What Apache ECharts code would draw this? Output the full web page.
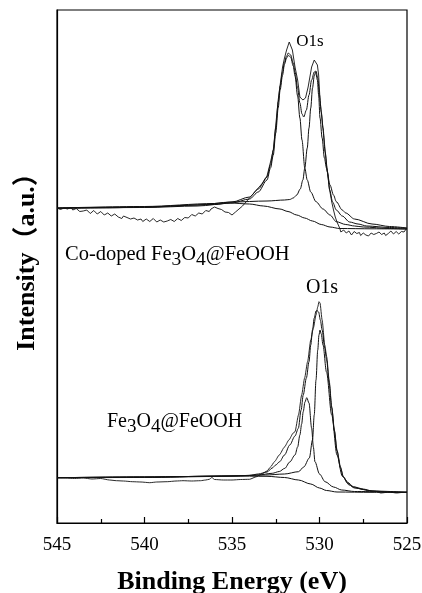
<!DOCTYPE html>
<html><head><meta charset="utf-8">
<script src="https://cdn.jsdelivr.net/npm/echarts@6/dist/echarts.min.js"></script>
<style>html,body{margin:0;padding:0;background:#fff}#c{width:422px;height:593px}</style>
</head><body><div id="c"></div>
<script>
// X ticks (eV)
const xTicks = [545, 540, 535, 530, 525];
// ---- Co-doped Fe3O4@FeOOH (upper spectrum), [binding energy, intensity a.u.] ----
const coRaw = [[545.0,315],[544.9,316.5],[544.8,313.5],[544.7,314.5],[544.6,315],[544.5,313],[544.4,314],[544.3,316],[544.2,315.5],[544.1,313],[544.0,314],[543.9,314.5],[543.8,312.5],[543.7,311.5],[543.6,313.5],[543.5,312],[543.4,311],[543.3,313],[543.2,312],[543.1,309.5],[543.0,310.5],[542.9,312.5],[542.8,311.5],[542.7,309],[542.6,310],[542.5,311.5],[542.4,310.5],[542.3,308],[542.2,308.5],[542.1,310],[542.0,309.5],[541.9,307],[541.8,307.5],[541.7,309],[541.6,308],[541.5,306],[541.4,305.5],[541.3,304.5],[541.2,307],[541.1,306],[541.0,305.5],[540.9,303.5],[540.8,304],[540.7,306],[540.6,305],[540.5,303],[540.4,303],[540.3,305],[540.2,304],[540.1,301.5],[540.0,302],[539.9,304],[539.8,303.5],[539.7,301.5],[539.6,302.5],[539.5,304.5],[539.4,303.5],[539.3,301],[539.2,301.5],[539.1,303],[539.0,302.5],[538.9,301],[538.8,303],[538.7,302],[538.6,301.5],[538.5,303.5],[538.4,303],[538.3,301.5],[538.2,302.5],[538.1,304.5],[538.0,304],[537.9,302.5],[537.8,303.5],[537.7,305.5],[537.6,306],[537.5,305],[537.4,306.5],[537.3,308.5],[537.2,308.5],[537.1,307],[537.0,308],[536.9,310],[536.8,310],[536.7,309],[536.6,310.5],[536.5,312.5],[536.4,312.5],[536.3,311.5],[536.2,314],[536.1,315.5],[536.0,316],[535.9,314],[535.8,314.5],[535.7,315.5],[535.6,313.5],[535.5,312],[535.4,311],[535.3,312],[535.2,310.5],[535.1,309],[535.0,308],[534.9,309.5],[534.8,311],[534.7,312.5],[534.6,314],[534.5,315.5],[534.4,317],[534.3,319],[534.2,321],[534.1,322.5],[534.0,325],[533.8,329],[533.6,333],[533.4,337],[533.2,341],[533.0,347],[532.8,361],[532.64,373],[532.5,398],[532.36,423],[532.25,438],[532.11,456],[532.0,465],[531.88,473],[531.73,481],[531.55,473],[531.4,456],[531.25,443],[531.12,426],[530.95,423],[530.8,425],[530.65,436],[530.45,456],[530.3,463],[530.22,465],[530.12,458],[530.05,448],[529.97,423],[529.85,403],[529.68,373],[529.55,351],[529.42,333],[529.3,321],[529.2,313],[529.1,306],[529.0,301],[528.85,295],[528.78,291],[528.7,290],[528.62,293],[528.55,292.5],[528.47,290],[528.4,289.5],[528.32,292],[528.25,291],[528.17,288],[528.1,288.5],[528.02,291.5],[527.95,291],[527.87,289.5],[527.8,289],[527.72,290.5],[527.65,287.5],[527.57,289],[527.5,290],[527.42,288.5],[527.35,288],[527.27,290],[527.2,287],[527.12,288.5],[527.05,290],[526.97,291],[526.9,288.5],[526.82,287.5],[526.75,289.5],[526.67,290.5],[526.6,291],[526.52,289],[526.45,288.5],[526.37,290.5],[526.3,290],[526.22,287.5],[526.15,288],[526.07,289.5],[526.0,290],[525.92,292],[525.85,291.5],[525.77,289],[525.7,289.5],[525.62,291.5],[525.55,291],[525.47,289],[525.4,290],[525.32,291.5],[525.25,292.5],[525.17,291],[525.1,293],[525.05,294],[525.0,295]];
const coFit = [[545,314.7],[542,315.2],[540,316],[537,318],[535,321],[534,326],[533.5,334],[533,346],[532.8,358],[532.64,373],[532.5,395],[532.36,421],[532.25,437],[532.11,451],[532,461],[531.88,467],[531.78,470],[531.65,468],[531.5,460],[531.4,451],[531.25,435],[531.12,420],[531.0,409],[530.9,406],[530.75,413],[530.6,428],[530.45,443],[530.3,451],[530.2,452],[530.1,445],[530.0,428],[529.9,411],[529.8,395],[529.68,371],[529.55,351],[529.42,333],[529.25,321],[529.04,313],[528.7,307],[528.28,301],[527.8,299],[527.3,297],[526,295.5],[525,294.7]];
const coPeakA = [[545,314.7],[540,315.5],[537,317],[535,320],[534,324],[533.5,331],[533,343],[532.8,355],[532.64,368],[532.5,390],[532.36,415],[532.25,433],[532.11,448],[532.0,459],[531.88,465],[531.78,467.5],[531.65,466],[531.5,457],[531.4,447],[531.25,427],[531.12,405],[531.0,383],[530.84,355],[530.7,343],[530.5,331],[530.2,321.3],[529.8,314],[529.4,308],[529.04,301.3],[528.5,298.5],[528,297],[527.5,296],[526,294.5],[525,294]];
const coPeakB = [[545,315],[540,316.5],[536,319.5],[535,321],[533,322],[532,323],[531.7,323.5],[531.5,325],[531.3,328],[531.1,334],[530.95,343],[530.84,355],[530.7,375],[530.6,395],[530.5,415],[530.4,435],[530.3,447],[530.22,451],[530.12,443],[530.05,428],[529.97,405],[529.85,385],[529.72,365],[529.6,355],[529.4,338],[529.2,328],[529.04,321.3],[528.7,313],[528.5,310],[528,304],[527,299],[526,296.5],[525,295]];
const coBg = [[545,315],[540,316],[536,318.5],[535.1,320],[534,319],[533.2,317],[532.26,314],[531.8,311.5],[531.3,308],[530.85,305],[530.4,302],[529.9,298.5],[529.4,296],[528.85,294.5],[527,294.2],[525,294]];
// ---- Fe3O4@FeOOH (lower spectrum) ----
const feRaw = [[545,45.3],[544.5,45],[544,44.5],[543.5,45],[543,44],[542.5,44.5],[542,43],[541.6,42.3],[541.2,42],[540.7,41.3],[540.2,41],[539.7,40.3],[539.3,41],[538.7,41.3],[538.2,42],[537.8,42.3],[537.3,42],[536.8,42.3],[536.5,43],[536.3,43.7],[536.15,45.5],[536,43.5],[535.5,43],[535,43],[534.5,43.5],[534,43.7],[533.6,46.3],[533.3,49],[533,52],[532.8,56],[532.57,61.3],[532.3,68],[532,76],[531.75,83],[531.5,90],[531.4,91.3],[531.2,108],[531.02,128],[530.85,145],[530.68,161.3],[530.5,183],[530.35,195],[530.2,208],[530.1,216],[530.03,221.3],[529.97,220],[529.85,203],[529.7,178],[529.59,166.3],[529.45,143],[529.3,116.3],[529.15,93],[529,73],[528.8,56],[528.64,46.3],[528.4,41],[528.07,36.3],[527.5,34],[527,32],[526.73,31.5],[526.5,30],[526,31],[525.6,30],[525.2,30.7],[525,31]];
const feFit = [[545,45.3],[540,45.5],[536,46.5],[534,47.5],[533.5,49],[533,51],[532.7,55],[532.5,58],[532.28,61.3],[532,68],[531.7,78],[531.4,87],[531.21,94.7],[531.05,113],[530.93,128],[530.75,145],[530.6,161.3],[530.5,178],[530.4,193],[530.3,205],[530.2,212],[530.13,212.3],[530.05,211],[529.95,203],[529.85,193],[529.7,175],[529.59,163],[529.45,140],[529.3,115],[529.15,92],[529,72],[528.8,55],[528.64,46],[528.4,40],[528.07,36],[527.5,33.5],[527,32],[526,31],[525,30.7]];
const fePeak1 = [[545,45.3],[540,46],[535,47],[533.1,48],[532,49],[531.2,51.3],[530.9,56],[530.58,65],[530.4,83],[530.3,108],[530.2,143],[530.1,173],[530.03,188],[529.97,193],[529.9,189],[529.8,178],[529.6,151],[529.3,108],[529.0,68],[528.7,47],[528.3,38],[528,35],[527,32],[525,30.7]];
const fePeak2 = [[545,45.3],[540,46],[535,47],[533.5,48],[532.7,49.7],[532.3,51.5],[531.98,54.7],[531.7,61],[531.4,68],[531.25,76],[531.12,88],[531.02,99],[530.93,111.3],[530.83,121],[530.73,125.3],[530.6,120],[530.45,95],[530.35,76],[530.26,61.3],[530.0,49],[529.68,41.3],[529.2,36],[528.73,33],[528,31.5],[525,30.7]];
const feBg = [[545,45.3],[540,46],[535,47],[533,46.7],[532,45.5],[531.2,43],[530.5,39],[530,35],[529.6,32.5],[529,31],[527,30.7],[525,30.5]];

const FONT = '"Liberation Serif","Times New Roman",serif';
const INK = '#111';
function line(data, w, smooth) {
  return {type:'line', data:data, showSymbol:false, smooth:smooth, smoothMonotone:'x',
    lineStyle:{color:INK, width:w}, silent:true, z:2};
}
const chart = echarts.init(document.getElementById('c'), null, {renderer:'canvas'});
chart.setOption({
  animation:false,
  backgroundColor:'#fff',
  grid:{left:57, right:15, top:10, bottom:70, outerBoundsMode:'none', containLabel:false,
    show:true, borderColor:'#000', borderWidth:1.2, backgroundColor:'transparent'},
  xAxis:{type:'value', min:525, max:545, interval:5, inverse:true,
    axisLine:{lineStyle:{color:'#000', width:1.2}},
    axisTick:{inside:true, length:6, lineStyle:{color:'#000', width:1.2}},
    minorTick:{show:true, splitNumber:2, length:4, lineStyle:{color:'#000', width:1.2}},
    splitLine:{show:false},
    axisLabel:{fontSize:19, margin:13, color:'#000', fontFamily:FONT,
      customValues: xTicks},
    name:'Binding Energy (eV)', nameLocation:'middle', nameGap:46,
    nameTextStyle:{fontSize:26, fontWeight:'bold', color:'#000', fontFamily:FONT}},
  yAxis:{type:'value', min:0, max:513,
    axisLine:{show:true, lineStyle:{color:'#000', width:1.2}},
    axisTick:{show:false}, axisLabel:{show:false}, splitLine:{show:false},
    name:'Intensity（a.u.）', nameLocation:'middle', nameGap:17, nameRotate:90,
    nameTextStyle:{fontSize:26, fontWeight:'bold', color:'#000', padding:[0,0,0,22],
      fontFamily:'"Liberation Serif","Noto Sans CJK SC",serif'}},
  series:[
    line(coBg,1,0.3), line(coPeakB,1,0.3), line(coPeakA,1,0.3), line(coFit,1,0.3), line(coRaw,0.9,false),
    line(feBg,1,0.3), line(fePeak2,1,0.3), line(fePeak1,1,0.3), line(feFit,1,0.3), line(feRaw,0.9,0.2)
  ],
  graphic:[
    {type:'text', x:310, y:42, style:{text:'O1s', fontSize:17, fontFamily:FONT, fill:'#000', align:'center', verticalAlign:'middle'}},
    {type:'text', x:322, y:288, style:{text:'O1s', fontSize:20, fontFamily:FONT, fill:'#000', align:'center', verticalAlign:'middle'}},
    {type:'text', x:65, y:255, style:{text:'{n|Co-doped Fe}{s|3}{n|O}{s|4}{n|@FeOOH}', fill:'#000', align:'left', verticalAlign:'middle',
      rich:{n:{fontSize:20.5, fontFamily:FONT, fill:'#000'}, s:{fontSize:19.5, fontFamily:FONT, fill:'#000', padding:[10,0,0,0]}}}},
    {type:'text', x:107, y:422, style:{text:'{n|Fe}{s|3}{n|O}{s|4}{n|@FeOOH}', fill:'#000', align:'left', verticalAlign:'middle',
      rich:{n:{fontSize:20, fontFamily:FONT, fill:'#000'}, s:{fontSize:19, fontFamily:FONT, fill:'#000', padding:[10,0,0,0]}}}}
  ]
});
</script></body></html>
